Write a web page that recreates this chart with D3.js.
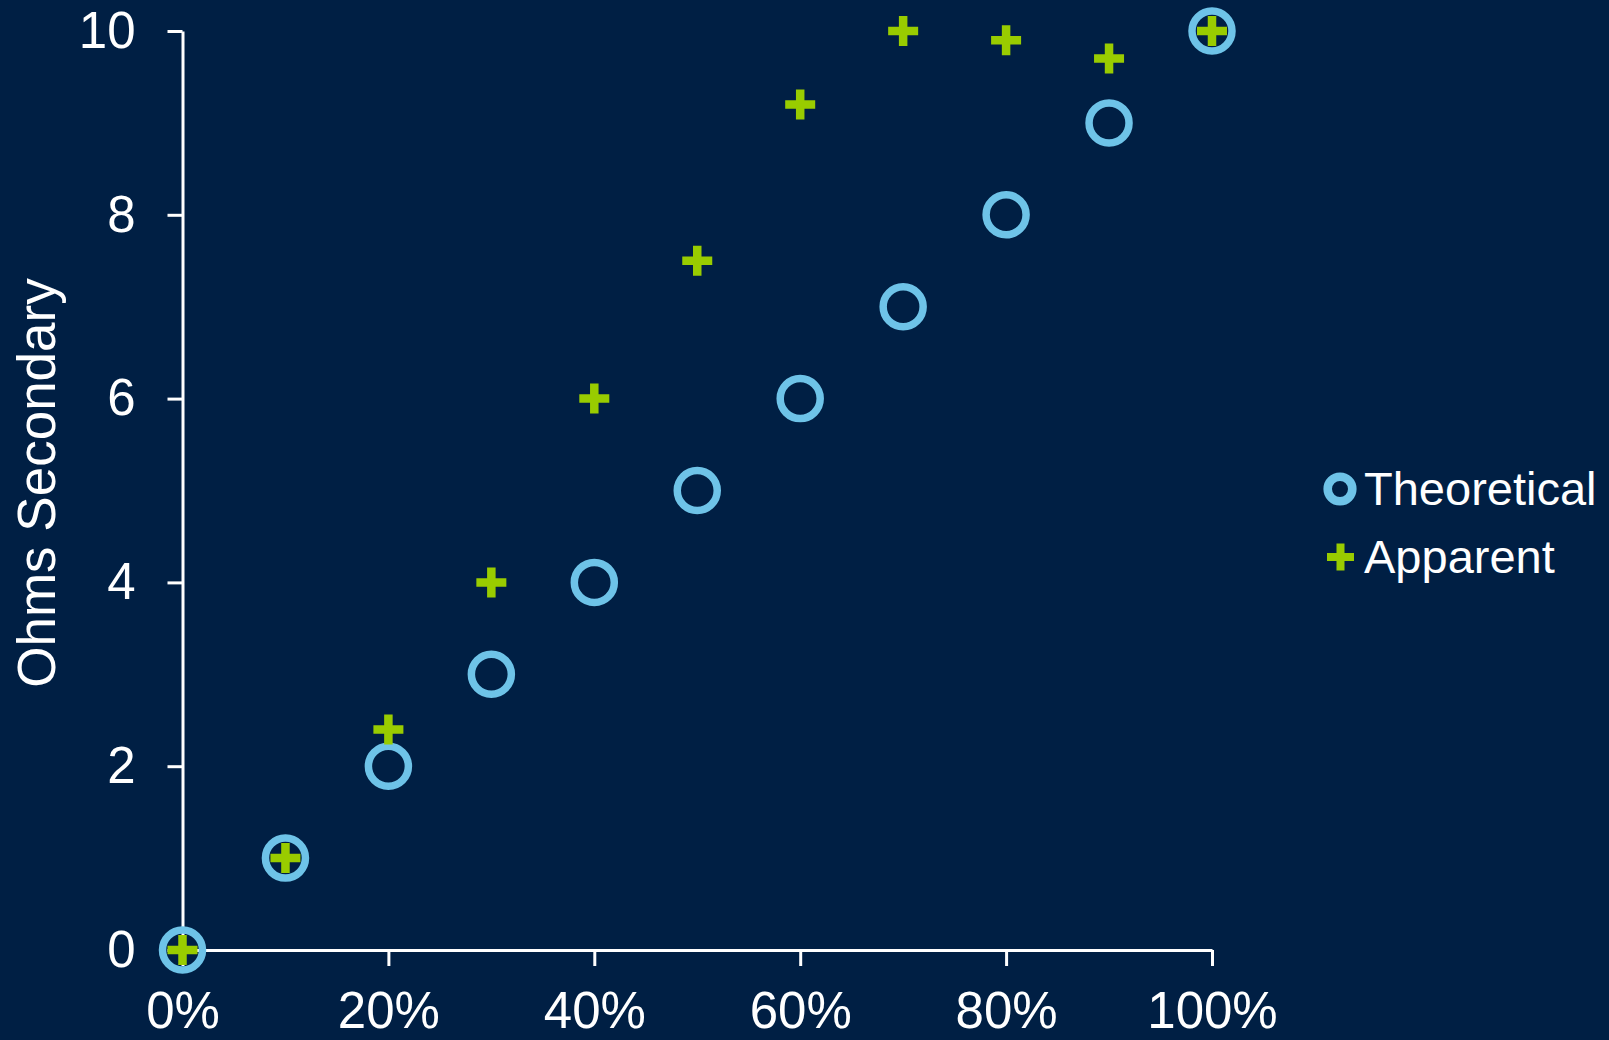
<!DOCTYPE html>
<html>
<head>
<meta charset="utf-8">
<script src="https://cdn.jsdelivr.net/npm/d3@7"></script>
<style>
  html, body { margin: 0; padding: 0; background: #001f44; }
  svg { display: block; }
  text { font-family: "Liberation Sans", Arial, sans-serif; fill: #ffffff; }
</style>
</head>
<body>
<svg id="chart" width="1609" height="1040"></svg>
<script>
// Load fraction (x) and impedance in ohms secondary (y)
const loadFraction = [0, 0.1, 0.2, 0.3, 0.4, 0.5, 0.6, 0.7, 0.8, 0.9, 1.0];
const theoretical  = [0, 1, 2, 3, 4, 5, 6, 7, 8, 9, 10];
const apparent     = [0, 1, 2.4, 4, 6, 7.5, 9.2, 10, 9.9, 9.7, 10];
const xTicks = [0, 0.2, 0.4, 0.6, 0.8, 1.0];
const yTicks = [0, 2, 4, 6, 8, 10];
const seriesNames = ["Theoretical", "Apparent"];

const COLORS = { theoretical: "#6ec3e8", apparent: "#99cc00", axis: "#ffffff" };

const svg = d3.select("#chart");

const x = d3.scaleLinear().domain([0, 1]).range([182.5, 1212]);
const y = d3.scaleLinear().domain([0, 10]).range([950, 31]);

// Y axis
const yAxis = svg.append("g")
  .attr("transform", `translate(${x(0)},0)`)
  .call(d3.axisLeft(y).tickValues(yTicks).tickSize(15).tickSizeOuter(0).tickPadding(32));

// X axis
const xAxis = svg.append("g")
  .attr("transform", `translate(0,${y(0)})`)
  .call(d3.axisBottom(x).tickValues(xTicks).tickFormat(d3.format(".0%"))
    .tickSize(16).tickSizeOuter(0).tickPadding(26));

[yAxis, xAxis].forEach(g => {
  g.select(".domain").attr("stroke", COLORS.axis).attr("stroke-width", 3);
  g.selectAll(".tick line").attr("stroke", COLORS.axis).attr("stroke-width", 3);
  g.selectAll(".tick text")
    .attr("fill", COLORS.axis)
    .style("font-size", "51px")
    .style("font-family", "'Liberation Sans', Arial, sans-serif");
});

// Y axis title
svg.append("text")
  .attr("transform", "translate(55,483) rotate(-90)")
  .attr("text-anchor", "middle")
  .style("font-size", "53px")
  .text("Ohms Secondary");

// Plus-shaped marker path centred on the origin
function plusPath(size, arm) {
  const h = size / 2, a = arm / 2;
  return `M${-a},${-h}H${a}V${-a}H${h}V${a}H${a}V${h}H${-a}V${a}H${-h}V${-a}H${-a}Z`;
}

const pts = loadFraction.map((f, i) => ({ f, t: theoretical[i], a: apparent[i] }));

// Theoretical: hollow circles
svg.append("g").selectAll("circle")
  .data(pts)
  .join("circle")
  .attr("cx", d => x(d.f))
  .attr("cy", d => y(d.t))
  .attr("r", 20)
  .attr("fill", "none")
  .attr("stroke", COLORS.theoretical)
  .attr("stroke-width", 7.5);

// Apparent: plus markers
svg.append("g").selectAll("path")
  .data(pts)
  .join("path")
  .attr("transform", d => `translate(${x(d.f)},${y(d.a)})`)
  .attr("d", plusPath(30, 8.5))
  .attr("fill", COLORS.apparent);

// Legend
const legend = svg.append("g");
const rows = [
  { name: seriesNames[0], cy: 489, base: 505 },
  { name: seriesNames[1], cy: 557, base: 573 }
];
legend.append("circle")
  .attr("cx", 1340).attr("cy", rows[0].cy).attr("r", 12.3)
  .attr("fill", "none").attr("stroke", COLORS.theoretical).attr("stroke-width", 8.6);
legend.append("path")
  .attr("transform", `translate(1340.5,${rows[1].cy})`)
  .attr("d", plusPath(27, 8))
  .attr("fill", COLORS.apparent);
legend.selectAll("text")
  .data(rows)
  .join("text")
  .attr("x", 1364)
  .attr("y", d => d.base)
  .style("font-size", "47px")
  .text(d => d.name);
</script>
</body>
</html>
